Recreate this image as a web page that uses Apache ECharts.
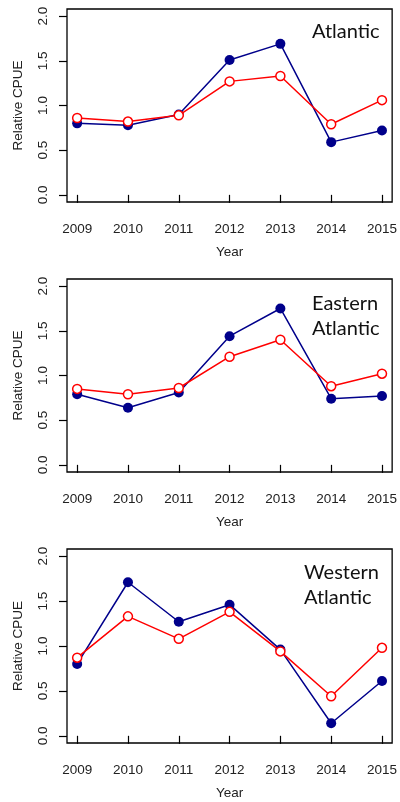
<!DOCTYPE html>
<html>
<head>
<meta charset="utf-8">
<script src="https://cdn.jsdelivr.net/npm/echarts@6/dist/echarts.min.js"></script>
<style>
  html, body { margin: 0; padding: 0; background: #fff; }
  #chart { width: 400px; height: 802px; }
</style>
</head>
<body>
<div id="chart"></div>
<script>
const years = [2009, 2010, 2011, 2012, 2013, 2014, 2015];
const yTicks = [0, 0.5, 1.0, 1.5, 2.0];
const regions = ['Atlantic', 'Eastern\nAtlantic', 'Western\nAtlantic'];

// filled navy points
const atlanticFilled = [0.80, 0.78, 0.90, 1.51, 1.69, 0.59, 0.72];
const easternFilled = [0.79, 0.64, 0.81, 1.44, 1.75, 0.74, 0.77];
const westernFilled = [0.80, 1.71, 1.27, 1.46, 0.96, 0.14, 0.61];

// open red points
const atlanticOpen = [0.86, 0.82, 0.89, 1.27, 1.33, 0.79, 1.06];
const easternOpen = [0.85, 0.79, 0.86, 1.21, 1.40, 0.88, 1.02];
const westernOpen = [0.87, 1.33, 1.08, 1.38, 0.94, 0.44, 0.98];

const filledSets = [atlanticFilled, easternFilled, westernFilled];
const openSets = [atlanticOpen, easternOpen, westernOpen];

const panels = [
  { top: 9, height: 193, titleTop: 19, titleLeft: 312 },
  { top: 279, height: 193, titleTop: 291, titleLeft: 312 },
  { top: 549, height: 194, titleTop: 560, titleLeft: 304 }
];

const chart = echarts.init(document.getElementById('chart'));
const font = 'Liberation Sans, Arial, sans-serif';

const pairs = (vals) => vals.map((v, i) => [years[i], v]);

const option = {
  animation: false,
  title: panels.map((p, i) => ({
    text: regions[i],
    left: p.titleLeft,
    top: p.titleTop,
    padding: 0,
    textStyle: {
      fontFamily: 'Lato, Open Sans, sans-serif',
      fontSize: 20,
      fontWeight: 'normal',
      color: '#111',
      lineHeight: 25
    }
  })),
  grid: panels.map(p => ({
    left: 67,
    right: 7,
    top: p.top,
    height: p.height,
    show: true,
    borderColor: '#000',
    borderWidth: 1.3,
    backgroundColor: 'transparent'
  })),
  xAxis: panels.map((p, i) => ({
    type: 'value',
    gridIndex: i,
    min: 2008.8,
    max: 2015.2,
    name: 'Year',
    nameLocation: 'middle',
    nameGap: 43,
    nameTextStyle: { fontFamily: font, fontSize: 13.5, color: '#222' },
    axisLine: { show: false },
    splitLine: { show: false },
    axisTick: {
      show: true,
      inside: false,
      length: 8,
      customValues: years,
      lineStyle: { color: '#000', width: 1.2 }
    },
    axisLabel: {
      customValues: years,
      margin: 20,
      fontFamily: font,
      fontSize: 13.5,
      color: '#222',
      formatter: v => String(v)
    }
  })),
  yAxis: panels.map((p, i) => ({
    type: 'value',
    gridIndex: i,
    min: -0.08,
    max: 2.08,
    name: 'Relative CPUE',
    nameLocation: 'middle',
    nameRotate: 90,
    nameGap: 42,
    nameTextStyle: { fontFamily: font, fontSize: 13.5, color: '#222' },
    axisLine: { show: false },
    splitLine: { show: false },
    axisTick: {
      show: true,
      inside: false,
      length: 8,
      customValues: yTicks,
      lineStyle: { color: '#000', width: 1.2 }
    },
    axisLabel: {
      customValues: yTicks,
      rotate: 90,
      margin: 17,
      fontFamily: font,
      fontSize: 13.5,
      color: '#222',
      formatter: v => v.toFixed(1)
    }
  })),
  series: panels.flatMap((p, i) => [
    {
      type: 'line',
      xAxisIndex: i,
      yAxisIndex: i,
      data: pairs(filledSets[i]),
      symbol: 'circle',
      symbolSize: 10,
      lineStyle: { color: '#00008B', width: 1.5 },
      itemStyle: { color: '#00008B', borderColor: '#00008B', borderWidth: 0 },
      z: 2
    },
    {
      type: 'line',
      xAxisIndex: i,
      yAxisIndex: i,
      data: pairs(openSets[i]),
      symbol: 'circle',
      symbolSize: 9,
      showAllSymbol: true,
      lineStyle: { color: '#FF0000', width: 1.5 },
      itemStyle: { color: '#fff', borderColor: '#FF0000', borderWidth: 1.5 },
      z: 3
    }
  ])
};

chart.setOption(option);
</script>
</body>
</html>
